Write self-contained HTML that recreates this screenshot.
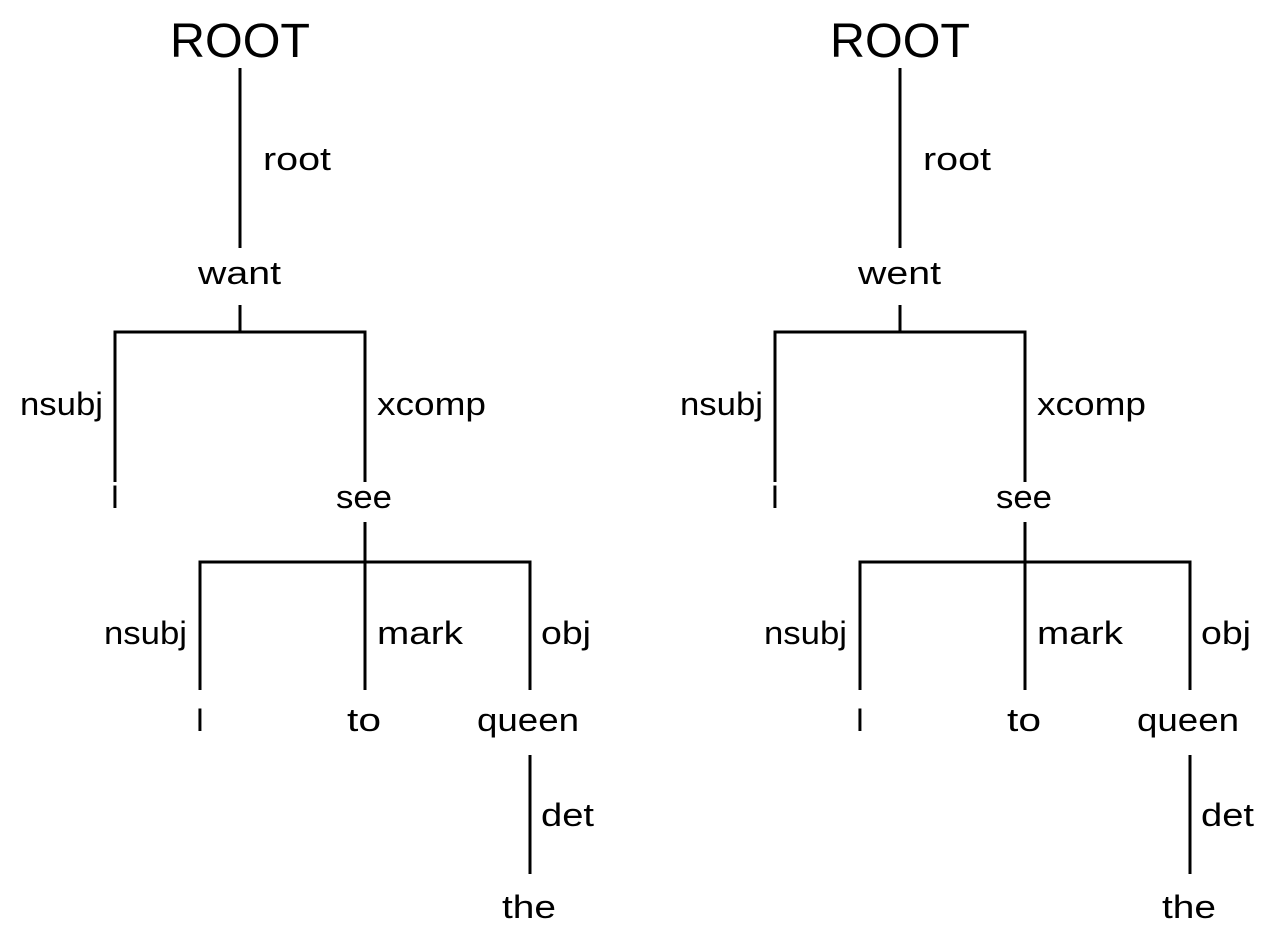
<!DOCTYPE html>
<html><head><meta charset="utf-8"><style>
html,body{margin:0;padding:0;background:#fff;width:1276px;height:941px;overflow:hidden}
text{font-family:"Liberation Sans",sans-serif;fill:#000}
</style></head><body>
<svg width="1276" height="941" viewBox="0 0 1276 941" xmlns="http://www.w3.org/2000/svg">
<defs>
<g id="tree" stroke="#000" stroke-width="3" fill="none">
  <line x1="240" y1="68" x2="240" y2="248"/>
  <line x1="240" y1="305" x2="240" y2="332"/>
  <polyline points="115,482 115,332 365,332 365,482"/>
  <line x1="365" y1="522" x2="365" y2="690"/>
  <polyline points="200,690 200,562 530,562 530,690"/>
  <line x1="530" y1="755" x2="530" y2="874"/>
</g>
</defs>
<use href="#tree"/>
<use href="#tree" x="660"/>
<g font-size="32">
  <text x="170" y="57" font-size="48" textLength="140" lengthAdjust="spacingAndGlyphs">ROOT</text>
  <text x="263" y="170" textLength="68" lengthAdjust="spacingAndGlyphs">root</text>
  <text x="198" y="284" textLength="83" lengthAdjust="spacingAndGlyphs">want</text>
  <text x="20" y="415" textLength="83" lengthAdjust="spacingAndGlyphs">nsubj</text>
  <text x="377" y="415" textLength="109" lengthAdjust="spacingAndGlyphs">xcomp</text>
  <text x="115" y="508" text-anchor="middle">I</text>
  <text x="336" y="508" textLength="56" lengthAdjust="spacingAndGlyphs">see</text>
  <text x="104" y="644" textLength="83" lengthAdjust="spacingAndGlyphs">nsubj</text>
  <text x="377" y="644" textLength="86" lengthAdjust="spacingAndGlyphs">mark</text>
  <text x="541" y="644" textLength="50" lengthAdjust="spacingAndGlyphs">obj</text>
  <text x="200" y="731" text-anchor="middle">I</text>
  <text x="347" y="731" textLength="34" lengthAdjust="spacingAndGlyphs">to</text>
  <text x="477" y="731" textLength="102" lengthAdjust="spacingAndGlyphs">queen</text>
  <text x="541" y="826" textLength="53" lengthAdjust="spacingAndGlyphs">det</text>
  <text x="502" y="918" textLength="54" lengthAdjust="spacingAndGlyphs">the</text>
</g>
<g font-size="32" transform="translate(660,0)">
  <text x="170" y="57" font-size="48" textLength="140" lengthAdjust="spacingAndGlyphs">ROOT</text>
  <text x="263" y="170" textLength="68" lengthAdjust="spacingAndGlyphs">root</text>
  <text x="198" y="284" textLength="83" lengthAdjust="spacingAndGlyphs">went</text>
  <text x="20" y="415" textLength="83" lengthAdjust="spacingAndGlyphs">nsubj</text>
  <text x="377" y="415" textLength="109" lengthAdjust="spacingAndGlyphs">xcomp</text>
  <text x="115" y="508" text-anchor="middle">I</text>
  <text x="336" y="508" textLength="56" lengthAdjust="spacingAndGlyphs">see</text>
  <text x="104" y="644" textLength="83" lengthAdjust="spacingAndGlyphs">nsubj</text>
  <text x="377" y="644" textLength="86" lengthAdjust="spacingAndGlyphs">mark</text>
  <text x="541" y="644" textLength="50" lengthAdjust="spacingAndGlyphs">obj</text>
  <text x="200" y="731" text-anchor="middle">I</text>
  <text x="347" y="731" textLength="34" lengthAdjust="spacingAndGlyphs">to</text>
  <text x="477" y="731" textLength="102" lengthAdjust="spacingAndGlyphs">queen</text>
  <text x="541" y="826" textLength="53" lengthAdjust="spacingAndGlyphs">det</text>
  <text x="502" y="918" textLength="54" lengthAdjust="spacingAndGlyphs">the</text>
</g>
</svg>
</body></html>
